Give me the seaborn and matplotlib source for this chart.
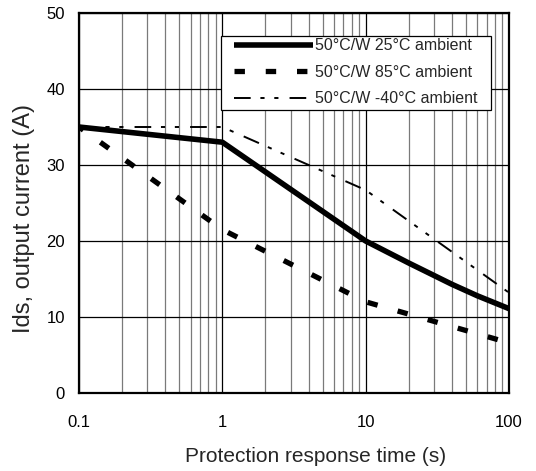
import matplotlib
matplotlib.use("Agg")
import matplotlib.pyplot as plt
import matplotlib.ticker as mticker
from matplotlib.patches import Rectangle
import seaborn as sns

# data (time in s, current in A)
t_25 = [0.1, 1, 10, 20, 40, 60, 100]
ids_25 = [35, 33, 20, 17.1, 14.3, 12.8, 11.1]

t_85 = [0.1, 1, 10, 100]
ids_85 = [35, 21.5, 12, 6.6]

t_m40 = [0.1, 1, 10, 100]
ids_m40 = [35, 35, 26.7, 13.2]

labels = ["50°C/W 25°C ambient", "50°C/W 85°C ambient", "50°C/W -40°C ambient"]
xticks = [0.1, 1, 10, 100]
xtick_labels = ["0.1", "1", "10", "100"]
yticks = [0, 10, 20, 30, 40, 50]

sns.set_style("white")
plt.rcParams['font.family'] = ['Liberation Sans', 'DejaVu Sans']
plt.rcParams['lines.scale_dashes'] = False

fig = plt.figure(figsize=(5.36, 4.71), dpi=100)
ax = fig.add_axes([0.1474, 0.1656, 0.8022, 0.8068])

dash_85 = (7.5, 15)
dash_m40 = (12, 7, 3, 7, 3, 8)
sns.lineplot(x=t_25, y=ids_25, ax=ax, color='black', lw=4, label=labels[0])
sns.lineplot(x=t_85, y=ids_85, ax=ax, color='black', lw=3.8,
             linestyle=(3.6, dash_85), label=labels[1])
sns.lineplot(x=t_m40, y=ids_m40, ax=ax, color='black', lw=1.4,
             linestyle=(0, dash_m40), label=labels[2])
for ln in ax.get_lines():
    ln.set_solid_capstyle('butt')
    ln.set_dash_capstyle('butt')
    ln.set_solid_joinstyle('round')

ax.set_xscale('log')
ax.set_xlim(0.1, 100)
ax.set_ylim(0, 50)
ax.set_xticks(xticks)
ax.set_xticklabels(xtick_labels)
ax.xaxis.set_minor_locator(mticker.LogLocator(base=10, subs=range(2, 10)))
ax.xaxis.set_minor_formatter(mticker.NullFormatter())
ax.set_yticks(yticks)

ax.grid(True, which='major', axis='both', color='black', lw=0.9)
ax.grid(True, which='minor', axis='x', color='#7a7a7a', lw=0.9)
ax.set_axisbelow(True)

ax.tick_params(axis='both', which='both', length=0, labelsize=12, colors='black')
ax.tick_params(axis='x', pad=15.5)
ax.tick_params(axis='y', pad=10)
for s in ax.spines.values():
    s.set_color('black')
    s.set_linewidth(1.6)

# axis titles sit off-centre in the reference
ax.set_xlabel('Protection response time (s)', fontsize=15, labelpad=12.5)
ax.set_ylabel('Ids, output current (A)', fontsize=17, labelpad=8)
ax.xaxis.label.set_x(0.549)
ax.yaxis.label.set_y(0.46)

leg = ax.legend(loc='upper right', bbox_to_anchor=(0.9326, 0.9395), borderaxespad=0,
                fontsize=11.5, handlelength=4.9, handletextpad=0.15, labelspacing=0.72,
                borderpad=0.15, frameon=False)
leg.set_zorder(6)
leg.get_lines()[1].set_linestyle((0, dash_85))

# legend box: wider horizontal padding than vertical, as in the reference
fig.canvas.draw()
bb = leg.get_window_extent().transformed(ax.transAxes.inverted())
padx = 11 / ax.bbox.width
pady = 1 / ax.bbox.height
box = Rectangle((bb.x0 - padx, bb.y0 - pady), bb.width + 2 * padx, bb.height + pady,
                transform=ax.transAxes, facecolor='white', edgecolor='black',
                lw=0.9, zorder=5, clip_on=False)
ax.add_patch(box)

fig.savefig('out.png', dpi=100)
